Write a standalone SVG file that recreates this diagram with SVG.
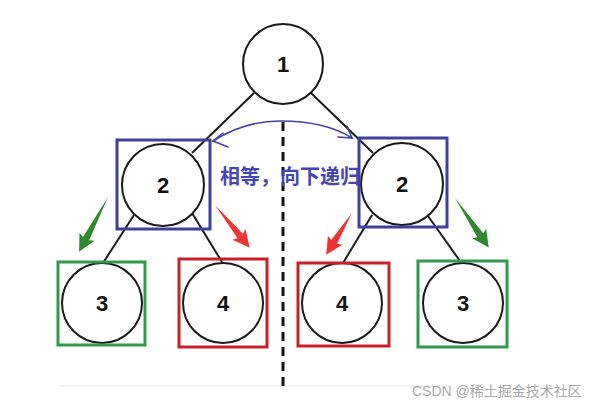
<svg xmlns="http://www.w3.org/2000/svg" width="591" height="406" viewBox="0 0 591 406">
<style>
.c{fill:#fff;stroke:#1a1a1a;stroke-width:2}
.n{font-family:"Liberation Sans",Arial,sans-serif;font-weight:bold;font-size:22px;fill:#111;text-anchor:middle}
.e{stroke:#1a1a1a;stroke-width:2;fill:none}
.bb{fill:none;stroke:#3f3fa0;stroke-width:3}
.gb{fill:none;stroke:#2e9a4c;stroke-width:3}
.rb{fill:none;stroke:#c8202a;stroke-width:3}
.ga{fill:#2f8a2f}
.ra{fill:#f03434}
</style>
<rect width="591" height="406" fill="#fff"/>
<line x1="60" y1="386" x2="450" y2="386" stroke="#ececec" stroke-width="1.5"/>
<g id="connectors">
<line class="e" x1="254" y1="93" x2="192" y2="153"/>
<line class="e" x1="311" y1="93" x2="373" y2="153"/>
<line class="e" x1="134" y1="215" x2="103" y2="263"/>
<line class="e" x1="192" y1="213" x2="222" y2="262"/>
<line class="e" x1="372" y1="215" x2="343" y2="263"/>
<line class="e" x1="428" y1="216" x2="460" y2="261"/>
</g>
<line x1="283" y1="122" x2="283" y2="386" stroke="#111" stroke-width="3" stroke-dasharray="9,6"/>
<g id="node1"><circle class="c" cx="283" cy="64" r="40"/><text class="n" x="283" y="72">1</text></g>
<g id="node2L"><circle class="c" cx="163" cy="185" r="41"/><text class="n" x="163" y="193">2</text><rect class="bb" x="117" y="140" width="93" height="89"/></g>
<g id="node2R"><circle class="c" cx="402" cy="184" r="41"/><text class="n" x="402" y="192">2</text><rect class="bb" x="359" y="138" width="88" height="89"/></g>
<g id="node3L"><circle class="c" cx="102" cy="303" r="40"/><text class="n" x="102" y="311">3</text><rect class="gb" x="58" y="262" width="87" height="83"/></g>
<g id="node4L"><circle class="c" cx="223" cy="303" r="40"/><text class="n" x="223" y="311">4</text><rect class="rb" x="179" y="259" width="88" height="88"/></g>
<g id="node4R"><circle class="c" cx="342" cy="303" r="40"/><text class="n" x="342" y="311">4</text><rect class="rb" x="298" y="263" width="91" height="83"/></g>
<g id="node3R"><circle class="c" cx="463" cy="303" r="40"/><text class="n" x="463" y="311">3</text><rect class="gb" x="418" y="261" width="89" height="86"/></g>
<g id="arrows">
<path class="ga" transform="translate(108,197) rotate(117.8)" d="M0,0 L47,-3.5 L45,-8.5 L62,0 L45,8.5 L47,3.5 Z"/>
<path class="ra" transform="translate(215,205) rotate(50.9)" d="M0,0 L40,-3.5 L38,-8.5 L55,0 L38,8.5 L40,3.5 Z"/>
<path class="ra" transform="translate(352,213) rotate(121.8)" d="M0,0 L34,-3.5 L32,-8.5 L49,0 L32,8.5 L34,3.5 Z"/>
<path class="ga" transform="translate(455,198) rotate(55.8)" d="M0,0 L45,-3.5 L43,-8.5 L60,0 L43,8.5 L45,3.5 Z"/>
</g>
<g id="equal-link" fill="none" stroke="#4040a8" stroke-width="1.6" stroke-linecap="round">
<path d="M213,141 C235,127 258,121 280,121 C305,121 330,124 352,138"/>
<polyline points="223,133 213,141 228,147"/>
<polyline points="347,126 352,138 338,137"/>
</g>
<text x="220" y="184" font-family="'Noto Sans CJK SC',sans-serif" font-weight="bold" font-size="20" fill="#4444b4">相等，向下递归</text>
<text x="412" y="396" font-family="'Liberation Sans','Noto Sans CJK SC',sans-serif" font-size="14" fill="#aaa">CSDN @稀土掘金技术社区</text>
</svg>
